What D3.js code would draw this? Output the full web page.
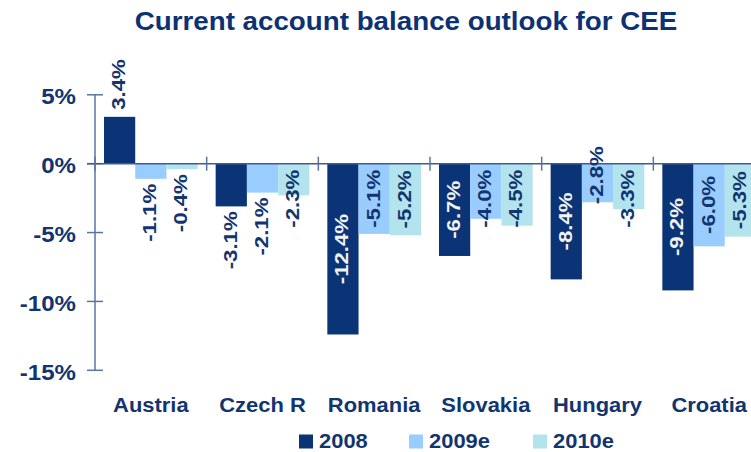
<!DOCTYPE html>
<html>
<head>
<meta charset="utf-8">
<script src="https://cdn.jsdelivr.net/npm/d3@7"></script>
<style>
  html, body { margin: 0; padding: 0; background: #fff; }
  svg { display: block; font-family: "Liberation Sans", Arial, sans-serif; font-weight: bold; }
</style>
</head>
<body>
<svg id="chart" width="751" height="452"></svg>
<script>
// ---- data ----
const categories = ["Austria", "Czech R", "Romania", "Slovakia", "Hungary", "Croatia"];
const seriesNames = ["2008", "2009e", "2010e"];
const values2008 = [3.4, -3.1, -12.4, -6.7, -8.4, -9.2];
const values2009 = [-1.1, -2.1, -5.1, -4.0, -2.8, -6.0];
const values2010 = [-0.4, -2.3, -5.2, -4.5, -3.3, -5.3];
const yTickValues = [5, 0, -5, -10, -15];
const titleText = "Current account balance outlook for CEE";

// ---- style ----
const colors = ["#0b3476", "#99ccff", "#b3e4ee"];
const navy = "#12346f";
const axisColor = "#5a74a2";
// label placement style per [series][category]: c = centered inside, o = outside end, e = end-aligned
const labelMode = [
  ["c", "o", "c", "c", "c", "c"],
  ["o", "o", "c", "c", "e", "c"],
  ["o", "c", "c", "c", "c", "c"]
];

const allSeries = [values2008, values2009, values2010];
const svg = d3.select("#chart");

const x0 = d3.scaleBand().domain(categories).range([95, 765]).paddingInner(0).paddingOuter(0);
const x1 = d3.scaleBand().domain(seriesNames).range([0, x0.bandwidth()]).paddingInner(0).paddingOuter(0.288);
const y = d3.scaleLinear().domain([-15, 5]).range([370.3, 94.8]);

// title
svg.append("text")
  .attr("transform", `translate(406,30) scale(1.11,1)`)
  .attr("text-anchor", "middle")
  .attr("font-size", 25)
  .attr("fill", "#0d3273")
  .text(titleText);

// bars
const groups = svg.append("g");
allSeries.forEach((vals, si) => {
  groups.selectAll(null)
    .data(vals.map((v, ci) => ({ v, ci, si })))
    .join("rect")
    .attr("x", d => x0(categories[d.ci]) + x1(seriesNames[si]))
    .attr("width", x1.bandwidth())
    .attr("y", d => y(Math.max(0, d.v)))
    .attr("height", d => Math.abs(y(d.v) - y(0)))
    .attr("fill", colors[si]);
});

// y axis
const yAxisG = svg.append("g").attr("transform", "translate(95,0)");
yAxisG.append("line").attr("x1", 0).attr("x2", 0).attr("y1", y(5)).attr("y2", y(-15))
  .attr("stroke", axisColor).attr("stroke-width", 1.5);
yAxisG.selectAll("line.tick").data(yTickValues).join("line")
  .attr("class", "tick")
  .attr("x1", -8).attr("x2", 8)
  .attr("y1", d => y(d)).attr("y2", d => y(d))
  .attr("stroke", axisColor).attr("stroke-width", 1.5);
yAxisG.selectAll("text").data(yTickValues).join("text")
  .attr("transform", d => `translate(-19,${y(d) + 9.5}) scale(1.12,1)`)
  .attr("text-anchor", "end")
  .attr("font-size", 21.5)
  .attr("fill", navy)
  .text(d => d + "%");

// zero line
svg.append("line").attr("x1", 87).attr("x2", 751).attr("y1", y(0)).attr("y2", y(0))
  .attr("stroke", "#3d5c95").attr("stroke-width", 1.5);
// category separator ticks
const sepX = categories.map(c => x0(c)).concat([x0.range()[1]]);
svg.selectAll("line.sep").data(sepX).join("line")
  .attr("class", "sep")
  .attr("x1", d => d).attr("x2", d => d)
  .attr("y1", y(0) - 7).attr("y2", y(0) + 7)
  .attr("stroke", axisColor).attr("stroke-width", 1.5);

// category labels
svg.selectAll("text.cat").data(categories).join("text")
  .attr("class", "cat")
  .attr("transform", d => `translate(${x0(d) + x0.bandwidth() / 2},412) scale(1.07,1)`)
  .attr("text-anchor", "middle")
  .attr("font-size", 20.5)
  .attr("fill", navy)
  .text(d => d);

// value labels
const labelSX = 1.2;
const labelG = svg.append("g");
allSeries.forEach((vals, si) => {
  vals.forEach((v, ci) => {
    const cx = x0(categories[ci]) + x1(seriesNames[si]) + x1.bandwidth() / 2 - 1;
    const t = labelG.append("text")
      .attr("font-size", 18.5)
      .attr("dominant-baseline", "central")
      .attr("text-anchor", "middle")
      .text(v.toFixed(1) + "%");
    const len = t.node().getComputedTextLength() * labelSX;
    const mode = labelMode[si][ci];
    let cy, fill = navy;
    if (v >= 0) {
      cy = y(v) - 7 - len / 2;
    } else if (mode === "o") {
      cy = y(v) + 5 + len / 2;
    } else if (mode === "e") {
      cy = y(v) + 2 - len / 2;
    } else {
      cy = Math.max((y(0) + y(v)) / 2, y(0) + 6 + len / 2);
      if (si === 0) fill = "#f2f2f2";
    }
    t.attr("transform", `translate(${cx},${cy}) rotate(-90) scale(${labelSX},1)`)
      .attr("fill", fill);
  });
});

// legend
const legendX = [299, 409, 533];
const lg = svg.selectAll("g.leg").data(seriesNames).join("g")
  .attr("class", "leg")
  .attr("transform", (d, i) => `translate(${legendX[i]},0)`);
lg.append("rect").attr("x", 0).attr("y", 434.5).attr("width", 14).attr("height", 14)
  .attr("fill", (d, i) => colors[i]);
lg.append("text")
  .attr("transform", "translate(20,448) scale(1.07,1)")
  .attr("font-size", 20.5)
  .attr("fill", navy)
  .text(d => d);
</script>
</body>
</html>
